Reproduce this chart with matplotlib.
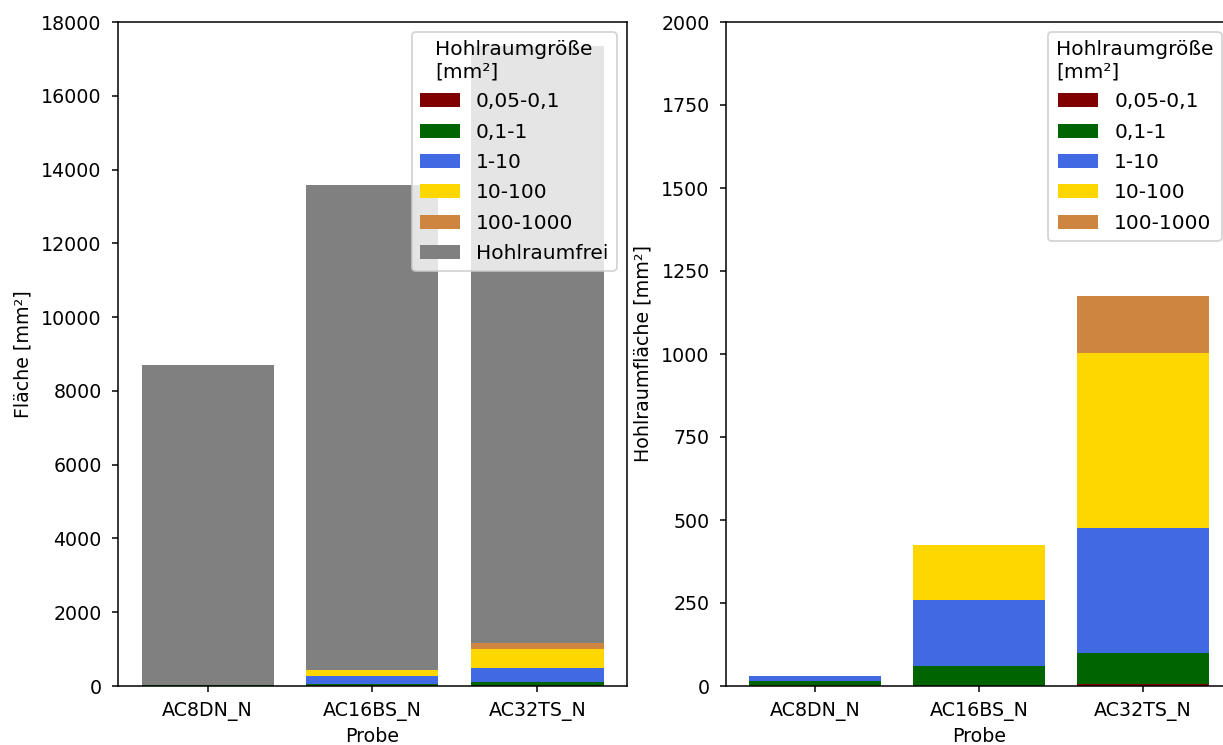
import matplotlib.pyplot as plt
import numpy as np

proben = ["AC8DN_N", "AC16BS_N", "AC32TS_N"]
klassen = ["0,05-0,1", "0,1-1", "1-10", "10-100", "100-1000"]
farben = ["maroon", "darkgreen", "royalblue", "gold", "peru"]

# Hohlraumfläche je Größenklasse [mm²]
flaeche_005_01 = [0.5, 1, 7]
flaeche_01_1 = [15, 60, 93]
flaeche_1_10 = [15, 198, 376]
flaeche_10_100 = [0, 166, 527]
flaeche_100_1000 = [0, 0, 172]
# hohlraumfreie Fläche [mm²]
hohlraumfrei = [8670, 13155, 16175]

klassen_werte = [flaeche_005_01, flaeche_01_1, flaeche_1_10,
                 flaeche_10_100, flaeche_100_1000]

plt.rcParams["xtick.major.pad"] = 5
plt.rcParams["ytick.major.pad"] = 5.5
plt.rcParams["xtick.major.size"] = 3.3
plt.rcParams["ytick.major.size"] = 3.3

fig = plt.figure(figsize=(1223 / 137, 745 / 137), dpi=137)
ax1 = fig.add_axes([118.4 / 1223, 59 / 745, 508.2 / 1223, 664 / 745])
ax2 = fig.add_axes([726.4 / 1223, 59 / 745, 505.2 / 1223, 664 / 745])

x = np.arange(len(proben))
for ax in (ax1, ax2):
    unten = np.zeros(len(proben))
    for name, werte, farbe in zip(klassen, klassen_werte, farben):
        ax.bar(x, werte, bottom=unten, color=farbe, label=name)
        unten += np.array(werte)
    if ax is ax1:
        ax.bar(x, hohlraumfrei, bottom=unten, color="gray", label="Hohlraumfrei")
    ax.set_xticks(x, proben)
    ax.set_xlabel("Probe", labelpad=3)
    ax.legend(title="Hohlraumgröße\n[mm²]", loc="upper right",
              fontsize=10.6, title_fontsize=10.6, labelspacing=0.56)

ax1.set_ylim(0, 18000)
ax1.set_yticks(np.arange(0, 18001, 2000))
ax1.set_ylabel("Fläche [mm²]", labelpad=4.5)

ax2.set_ylim(0, 2000)
ax2.set_yticks(np.arange(0, 2001, 250))
ax2.set_ylabel("Hohlraumfläche [mm²]", labelpad=4.5)

fig.savefig("out.png", dpi=137)
